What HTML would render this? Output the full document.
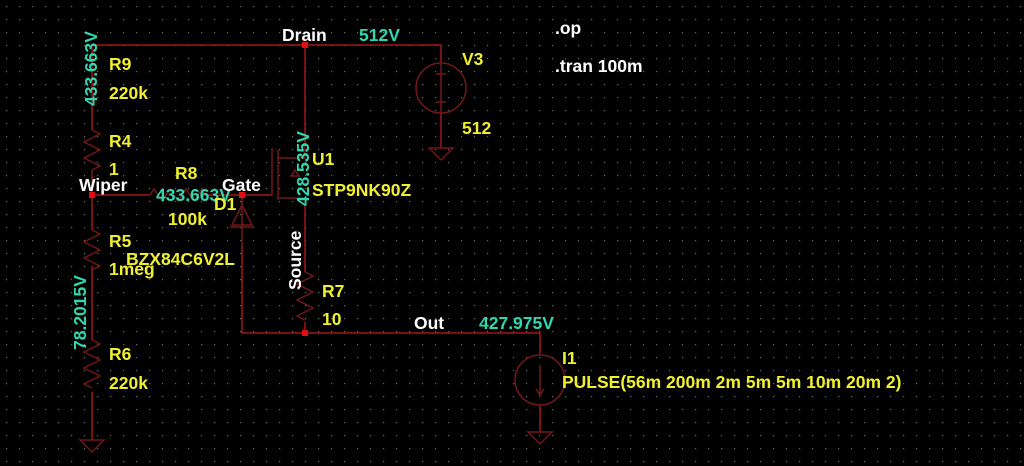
<!DOCTYPE html>
<html><head><style>
html,body{margin:0;padding:0;background:#000;}
svg{display:block;}
text{font-family:"Liberation Sans",Arial,sans-serif;font-weight:bold;font-size:17.5px;}
.y{fill:#f0f030;} .c{fill:#30d8b0;} .w{fill:#fff;}
.wire{stroke:#a01818;stroke-width:1.5;fill:none;}
.comp{stroke:#701818;stroke-width:1.5;fill:none;}
</style></head><body>
<svg width="1024" height="466" viewBox="0 0 1024 466">
<defs><pattern id="g" width="13" height="13" patternUnits="userSpaceOnUse"><rect x="6" y="6" width="1.2" height="1.2" fill="#6a6a6a"/></pattern></defs>
<rect width="1024" height="466" fill="#000"/>
<rect width="1024" height="466" fill="url(#g)"/>
<path class="wire" d="M92 45 H441 V62 M441 113 V148 M305 45 V145 M92 45 V130 M92 176 V230 M92 266 V340 M92 392 V440 M92 195 H150 M205 195 H272 M242 205 V197 M242 245 V333 H540 V355 M540 405 V432 M305 205 V272 M305 322 V333"/>
<path class="comp" d="M92 130 l8 4 -16 8 16 8 -16 8 16 8 -8 4 v6"/>
<path class="comp" d="M92 230 l8 4 -16 8 16 8 -16 8 16 8 -8 4"/>
<path class="comp" d="M92 340 l8 4 -16 8 16 8 -16 8 16 8 -16 8 8 4"/>
<path class="comp" d="M305 272 l8 4 -16 8 16 8 -16 8 16 8 -16 8 8 4"/>
<path class="comp" d="M150 195 l4 -6 8 12 8 -12 8 12 8 -12 8 12 8 -12 3 6"/>
<path class="comp" d="M80 440 h24 l-12 12 z"/>
<path class="comp" d="M429 148 h24 l-12 12 z"/>
<path class="comp" d="M528 432 h24 l-12 12 z"/>
<circle class="comp" cx="441" cy="88" r="25"/>
<path class="comp" d="M441 62 V113 M436 74 h10 M436 102 h10"/>
<circle class="comp" cx="540" cy="380" r="25"/>
<path class="comp" d="M540 365 V395 M536 389 l4 6 4 -6"/>
<path class="comp" d="M272 195 V148 M278 150 V200 M278 158 H305 M278 198 H305 M270 195 H272 M295 170 l-4 6 h8 z M305 145 V158"/>
<path class="comp" d="M242 205 L232 225 H252 Z M230 227 H254 M242 205 V245"/>
<g fill="#e01010"><rect x="302" y="42" width="6" height="6"/><rect x="89" y="192" width="6" height="6"/><rect x="239" y="192" width="6" height="6"/><rect x="302" y="330" width="6" height="6"/></g>
<text class="w" x="282" y="41">Drain</text>
<text class="c" x="359" y="41">512V</text>
<text class="y" x="462" y="65">V3</text>
<text class="y" x="462" y="134">512</text>
<text class="w" x="555" y="34">.op</text>
<text class="w" x="555" y="72">.tran 100m</text>
<text class="y" x="109" y="70">R9</text>
<text class="y" x="109" y="99">220k</text>
<text class="y" x="109" y="147">R4</text>
<text class="y" x="109" y="175">1</text>
<text class="w" x="79" y="191">Wiper</text>
<text class="y" x="175" y="179">R8</text>
<text class="c" x="156" y="201">433.663V</text>
<text class="y" x="168" y="225">100k</text>
<text class="w" x="222" y="191">Gate</text>
<text class="y" x="214" y="210">D1</text>
<text class="y" x="312" y="165">U1</text>
<text class="y" x="312" y="196">STP9NK90Z</text>
<text class="y" x="109" y="247">R5</text>
<text class="y" x="126" y="265">BZX84C6V2L</text>
<text class="y" x="109" y="275">1meg</text>
<text class="y" x="322" y="297">R7</text>
<text class="y" x="322" y="325">10</text>
<text class="y" x="109" y="360">R6</text>
<text class="y" x="109" y="389">220k</text>
<text class="w" x="414" y="329">Out</text>
<text class="c" x="479" y="329">427.975V</text>
<text class="y" x="562" y="364">I1</text>
<text class="y" x="562" y="388">PULSE(56m 200m 2m 5m 5m 10m 20m 2)</text>
<text class="c" transform="translate(97,106) rotate(-90)">433.663V</text>
<text class="c" transform="translate(86,350) rotate(-90)">78.2015V</text>
<text class="c" transform="translate(309,206) rotate(-90)">428.535V</text>
<text class="w" transform="translate(301,290) rotate(-90)">Source</text>
</svg>
</body></html>
